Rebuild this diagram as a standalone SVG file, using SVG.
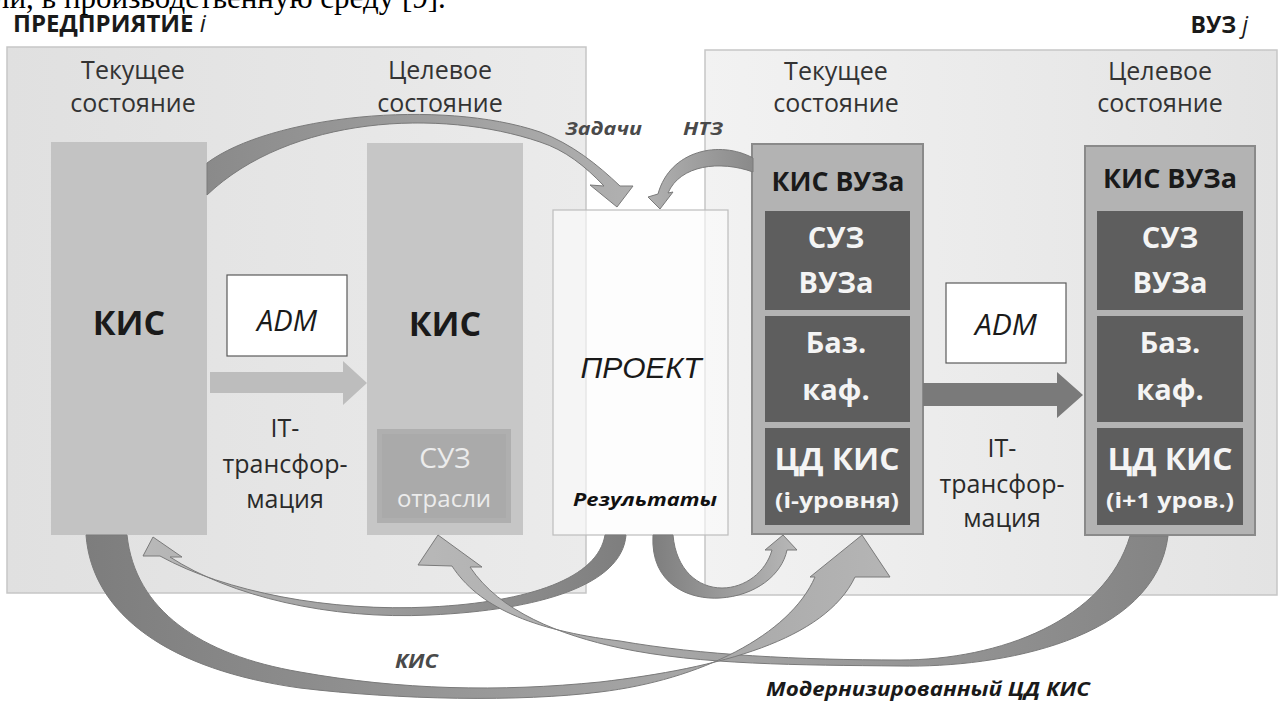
<svg xmlns="http://www.w3.org/2000/svg" width="1280" height="702" viewBox="0 0 1280 702">
<defs>
<style>
.hdr{font-family:"Open Sans","Noto Sans",sans-serif;font-size:25px;fill:#333;text-anchor:middle}
.big{font-family:"Open Sans","Noto Sans",sans-serif;font-weight:bold;fill:#1a1a1a;text-anchor:middle}
.wt{font-family:"Open Sans","Noto Sans",sans-serif;font-weight:bold;fill:#f4f4f4;text-anchor:middle}
.lbl{font-family:"Open Sans","Noto Sans",sans-serif;font-weight:bold;font-style:italic;fill:#4a4a4a}
.tr{font-family:"Open Sans","Noto Sans",sans-serif;font-size:25px;fill:#2a2a2a;text-anchor:middle}
.adm{fill:#fff;stroke:#5a5a5a;stroke-width:1.2}
.admt{font-family:"Open Sans","Noto Sans",sans-serif;font-style:italic;font-size:30px;fill:#1a1a1a;text-anchor:middle}
.vbox{fill:#b3b3b3;stroke:#8a8a8a;stroke-width:2}
.inner{fill:#5e5e5e}
.arr{stroke:#7a7a7a;stroke-width:1}
</style>
<linearGradient id="gL" x1="0" y1="0" x2="1" y2="0"><stop offset="0" stop-color="#e0e0e0"/><stop offset="1" stop-color="#ebebeb"/></linearGradient>
<linearGradient id="gR" x1="0" y1="0" x2="1" y2="0"><stop offset="0" stop-color="#f2f2f2"/><stop offset="1" stop-color="#e3e3e3"/></linearGradient>
<linearGradient id="aTop" gradientUnits="userSpaceOnUse" x1="207" y1="0" x2="630" y2="0"><stop offset="0" stop-color="#8a8a8a"/><stop offset="1" stop-color="#b0b0b0"/></linearGradient>
<linearGradient id="aNtz" gradientUnits="userSpaceOnUse" x1="753" y1="0" x2="650" y2="0"><stop offset="0" stop-color="#8a8a8a"/><stop offset="1" stop-color="#b0b0b0"/></linearGradient>
<linearGradient id="aRes" gradientUnits="userSpaceOnUse" x1="626" y1="0" x2="150" y2="0"><stop offset="0" stop-color="#7e7e7e"/><stop offset="1" stop-color="#b8b8b8"/></linearGradient>
<linearGradient id="aLoop" gradientUnits="userSpaceOnUse" x1="653" y1="0" x2="797" y2="0"><stop offset="0" stop-color="#7e7e7e"/><stop offset="1" stop-color="#b8b8b8"/></linearGradient>
<linearGradient id="aKis" gradientUnits="userSpaceOnUse" x1="86" y1="0" x2="890" y2="0"><stop offset="0" stop-color="#7d7d7d"/><stop offset="1" stop-color="#b5b5b5"/></linearGradient>
<linearGradient id="aMod" gradientUnits="userSpaceOnUse" x1="1170" y1="0" x2="418" y2="0"><stop offset="0" stop-color="#848484"/><stop offset="1" stop-color="#b8b8b8"/></linearGradient>
</defs>
<rect x="0" y="0" width="1280" height="702" fill="#ffffff"/>

<text x="-6" y="8" font-family="'Liberation Serif',serif" font-size="31" fill="#000">ли, в производственную среду [9].</text>
<text x="13" y="32" font-family="'Open Sans','Noto Sans',sans-serif" font-weight="bold" font-size="24" fill="#1a1a1a">ПРЕДПРИЯТИЕ <tspan font-style="italic" font-weight="normal">i</tspan></text>
<text x="1248" y="33" text-anchor="end" font-family="'Open Sans','Noto Sans',sans-serif" font-weight="bold" font-size="23" fill="#1a1a1a">ВУЗ <tspan font-style="italic" font-weight="normal">j</tspan></text>

<g id="region-enterprise">
<rect x="7" y="47" width="579" height="546" fill="url(#gL)" stroke="#c6c6c6" stroke-width="1.5"/>
<text class="hdr" x="133" y="79">Текущее</text>
<text class="hdr" x="133" y="112">состояние</text>
<text class="hdr" x="440" y="79">Целевое</text>
<text class="hdr" x="440" y="112">состояние</text>
</g>
<g id="region-university">
<rect x="705" y="50" width="572" height="545" fill="url(#gR)" stroke="#c6c6c6" stroke-width="1.5"/>
<text class="hdr" x="836" y="80">Текущее</text>
<text class="hdr" x="836" y="112">состояние</text>
<text class="hdr" x="1160" y="80">Целевое</text>
<text class="hdr" x="1160" y="112">состояние</text>
</g>

<g id="project">
<rect x="553" y="210" width="175" height="325" fill="#fbfbfb" fill-opacity="0.6" stroke="#bdbdbd" stroke-width="1.2"/>
<text x="641" y="378" text-anchor="middle" font-family="'Liberation Sans',Arial,sans-serif" font-style="italic" font-size="30" fill="#1a1a1a">ПРОЕКТ</text>
<text x="645" y="506" text-anchor="middle" font-family="'Open Sans','Noto Sans',sans-serif" font-weight="bold" font-style="italic" font-size="17" fill="#111" textLength="144" lengthAdjust="spacingAndGlyphs">Результаты</text>
</g>

<g id="kis-current">
<rect x="51" y="142" width="156" height="393" fill="#c3c3c3"/>
<text class="big" x="129" y="335" font-size="34">КИС</text>
</g>
<g id="adm-left">
<rect class="adm" x="227" y="275" width="120" height="81"/>
<text class="admt" x="287" y="331" textLength="60" lengthAdjust="spacingAndGlyphs">ADM</text>
</g>
<g id="it-left">
<text class="tr" x="285" y="437">IT-</text>
<text class="tr" x="285" y="473">трансфор-</text>
<text class="tr" x="285" y="508">мация</text>
</g>
<g id="kis-target">
<rect x="367" y="143" width="156" height="392" fill="#c6c6c6"/>
<text class="big" x="445" y="336" font-size="34">КИС</text>
<rect x="377" y="429" width="134" height="94" fill="#afafaf"/>
<rect x="382" y="434" width="124" height="84" fill="#aaaaaa"/>
<text x="445" y="468" text-anchor="middle" font-family="'Open Sans','Noto Sans',sans-serif" font-size="28" fill="#ececec">СУЗ</text>
<text x="444" y="507" text-anchor="middle" font-family="'Open Sans','Noto Sans',sans-serif" font-size="24" fill="#ececec">отрасли</text>
</g>

<g id="kis-vuz-current">
<rect class="vbox" x="752" y="144" width="171" height="390"/>
<text class="big" x="838" y="191" font-size="26" textLength="133" lengthAdjust="spacingAndGlyphs">КИС ВУЗа</text>
<rect class="inner" x="765" y="211" width="145" height="99"/>
<text class="wt" x="836" y="248" font-size="29">СУЗ</text>
<text class="wt" x="836" y="293" font-size="29">ВУЗа</text>
<rect class="inner" x="765" y="316" width="145" height="106"/>
<text class="wt" x="836" y="353" font-size="29">Баз.</text>
<text class="wt" x="836" y="400" font-size="29">каф.</text>
<rect class="inner" x="765" y="428" width="145" height="97"/>
<text class="wt" x="837" y="470" font-size="30" textLength="125" lengthAdjust="spacingAndGlyphs">ЦД КИС</text>
<text class="wt" x="837" y="508" font-size="21" textLength="124" lengthAdjust="spacingAndGlyphs">(i-уровня)</text>
</g>
<g id="adm-right">
<rect class="adm" x="946" y="283" width="120" height="80"/>
<text class="admt" x="1006" y="335" textLength="62" lengthAdjust="spacingAndGlyphs">ADM</text>
</g>
<g id="it-right">
<text class="tr" x="1002" y="457">IT-</text>
<text class="tr" x="1002" y="493">трансфор-</text>
<text class="tr" x="1002" y="527">мация</text>
</g>
<g id="kis-vuz-target">
<rect class="vbox" x="1085" y="146" width="170" height="389"/>
<text class="big" x="1170" y="188" font-size="26" textLength="134" lengthAdjust="spacingAndGlyphs">КИС ВУЗа</text>
<rect class="inner" x="1097" y="211" width="146" height="99"/>
<text class="wt" x="1170" y="248" font-size="29">СУЗ</text>
<text class="wt" x="1170" y="293" font-size="29">ВУЗа</text>
<rect class="inner" x="1097" y="316" width="146" height="106"/>
<text class="wt" x="1170" y="353" font-size="29">Баз.</text>
<text class="wt" x="1170" y="400" font-size="29">каф.</text>
<rect class="inner" x="1097" y="428" width="146" height="97"/>
<text class="wt" x="1170" y="470" font-size="30" textLength="125" lengthAdjust="spacingAndGlyphs">ЦД КИС</text>
<text class="wt" x="1170" y="508" font-size="21" textLength="128" lengthAdjust="spacingAndGlyphs">(i+1 уров.)</text>
</g>

<g id="connectors">
<polygon points="210,372 343,372 343,361 367,383 343,405 343,393 210,393" fill="#bdbdbd"/>
<polygon points="923,383 1057,383 1057,372 1083,395 1057,418 1057,406 923,406" fill="#7a7a7a"/>
<path class="arr" fill="url(#aTop)" d="M 207,163 C 270,116 440,98 540,132 C 572,144 598,165 620,186 L 633,186 L 617,207 L 590,185 L 604,186 C 585,166 565,150 540,142 C 440,108 290,116 207,195 Z"/>
<path class="arr" fill="url(#aNtz)" d="M 753,158 C 720,140 670,150 658,194 L 648,197 L 660,209 L 673,192 L 668,193 C 680,165 720,160 753,172 Z"/>
<path class="arr" fill="url(#aRes)" d="M 605,535 C 598,578 530,602 430,607 C 330,612 225,592 160,556 L 143,556 L 153,537 L 182,557 L 170,557 C 230,596 330,620 430,615 C 540,610 622,585 626,535 Z"/>
<path class="arr" fill="url(#aLoop)" d="M 653,535 C 650,585 690,600 720,598 C 755,596 782,575 787,550 L 797,550 L 783,535 L 765,550 L 772,550 C 766,572 745,588 722,588 C 698,588 676,570 673,535 Z"/>
<path class="arr" fill="url(#aMod)" d="M 1168,536 C 1155,640 1000,668 900,666 C 800,665 700,665 620,648 C 560,635 500,612 470,567 L 482,567 L 438,535 L 418,565 L 452,566 C 478,606 530,630 620,641 C 700,655 800,660 900,660 C 1000,660 1105,620 1130,536 Z"/>
<path class="arr" fill="url(#aKis)" d="M 86,535 C 92,615 170,670 300,688 C 400,700 520,702 600,692 C 700,680 790,635 815,577 L 810,577 L 862,535 L 890,577 L 855,577 C 825,640 720,668 600,682 C 500,692 400,690 300,672 C 200,655 135,610 127,535 Z"/>
<text class="lbl" x="565" y="135" font-size="17" textLength="77" lengthAdjust="spacingAndGlyphs">Задачи</text>
<text class="lbl" x="683" y="135" font-size="17" textLength="40" lengthAdjust="spacingAndGlyphs">НТЗ</text>
<text class="lbl" x="395" y="668" font-size="19" textLength="43" lengthAdjust="spacingAndGlyphs">КИС</text>
<text class="lbl" x="766" y="696" font-size="19" textLength="324" lengthAdjust="spacingAndGlyphs" style="fill:#1a1a1a">Модернизированный ЦД КИС</text>
</g>
</svg>
